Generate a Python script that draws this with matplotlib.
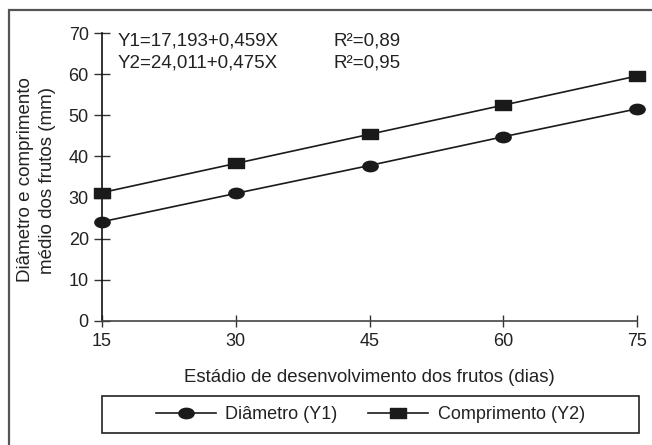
import matplotlib
matplotlib.use("Agg")
import matplotlib.pyplot as plt
from matplotlib.path import Path
from matplotlib.patches import Rectangle
from matplotlib.transforms import Affine2D
import numpy as np

plt.rcParams['font.family'] = ['Liberation Sans', 'DejaVu Sans']

# Data
dias = [15, 30, 45, 60, 75]
diametro = [24.1, 31.0, 37.8, 44.8, 51.6]
comprimento = [31.2, 38.3, 45.4, 52.5, 59.6]
yticks = [0, 10, 20, 30, 40, 50, 60, 70]
eq1 = "Y1=17,193+0,459X"
eq2 = "Y2=24,011+0,475X"
r1 = "R²=0,89"
r2 = "R²=0,95"

W, H = 652, 445
fig = plt.figure(figsize=(W / 100, H / 100), dpi=100)

def fx(px):
    return px / W

def fy(py):
    return 1 - py / H

ax = fig.add_axes([fx(102), fy(320.7), fx(637) - fx(102), fy(33.3) - fy(320.7)])

ell = Path.unit_circle().transformed(Affine2D().scale(1, 0.68))
rect = Path([(-1, -0.68), (1, -0.68), (1, 0.68), (-1, 0.68), (-1, -0.68)],
            [Path.MOVETO, Path.LINETO, Path.LINETO, Path.LINETO, Path.CLOSEPOLY])

ink = '#1a1a1a'
txt = '#222222'
ax.plot(dias, diametro, color=ink, lw=1.2, marker=ell, ms=11, clip_on=False,
        zorder=5, label='Diâmetro (Y1)')
ax.plot(dias, comprimento, color=ink, lw=1.2, marker=rect, ms=11, clip_on=False,
        zorder=5, label='Comprimento (Y2)')

ax.set_xlim(15, 75)
ax.set_ylim(0, 70)
ax.set_xticks(dias)
ax.set_yticks(yticks)
for s in ['top', 'right']:
    ax.spines[s].set_visible(False)
ax.spines['left'].set_color('#111111')
ax.spines['left'].set_linewidth(1.2)
ax.spines['bottom'].set_color('#444444')
ax.spines['bottom'].set_linewidth(1.2)
ax.tick_params(direction='inout', width=1.0, color='#333333',
               labelsize=13, labelcolor=txt)
ax.tick_params(axis='y', length=11, pad=4)
ax.tick_params(axis='x', length=8, pad=5)

fig.text(fx(369.5), fy(382), 'Estádio de desenvolvimento dos frutos (dias)',
         ha='center', va='baseline', fontsize=13.4, color=txt)

fig.text(fx(26), fy(180), 'Diâmetro e comprimento', rotation=90,
         ha='center', va='center', fontsize=13.5, color=txt)
fig.text(fx(48), fy(180), 'médio dos frutos (mm)', rotation=90,
         ha='center', va='center', fontsize=13.5, color=txt)

fig.text(fx(118), fy(46), eq1, ha='left', va='baseline', fontsize=13.5, color=txt)
fig.text(fx(118), fy(68), eq2, ha='left', va='baseline', fontsize=13.5, color=txt)
fig.text(fx(333), fy(46), r1, ha='left', va='baseline', fontsize=13.5, color=txt)
fig.text(fx(333), fy(68), r2, ha='left', va='baseline', fontsize=13.5, color=txt)

# legend box
fig.patches.append(Rectangle((fx(102), fy(433)), fx(639) - fx(102), fy(396) - fy(433),
                             transform=fig.transFigure, fill=False,
                             edgecolor='#222222', lw=1.2))
h, l = ax.get_legend_handles_labels()
fig.legend(h, l, loc='center', bbox_to_anchor=(fx(370.5), fy(414.5)), ncol=2,
           frameon=False, fontsize=13, handlelength=3.3, handletextpad=0.55,
           columnspacing=1.7, labelcolor=txt)

# outer frame
fig.patches.append(Rectangle((fx(9), -1.0), 2.0, fy(10) + 1.0,
                             transform=fig.transFigure, fill=False,
                             edgecolor='#555555', lw=1.6))

fig.savefig('out.png', dpi=100)
